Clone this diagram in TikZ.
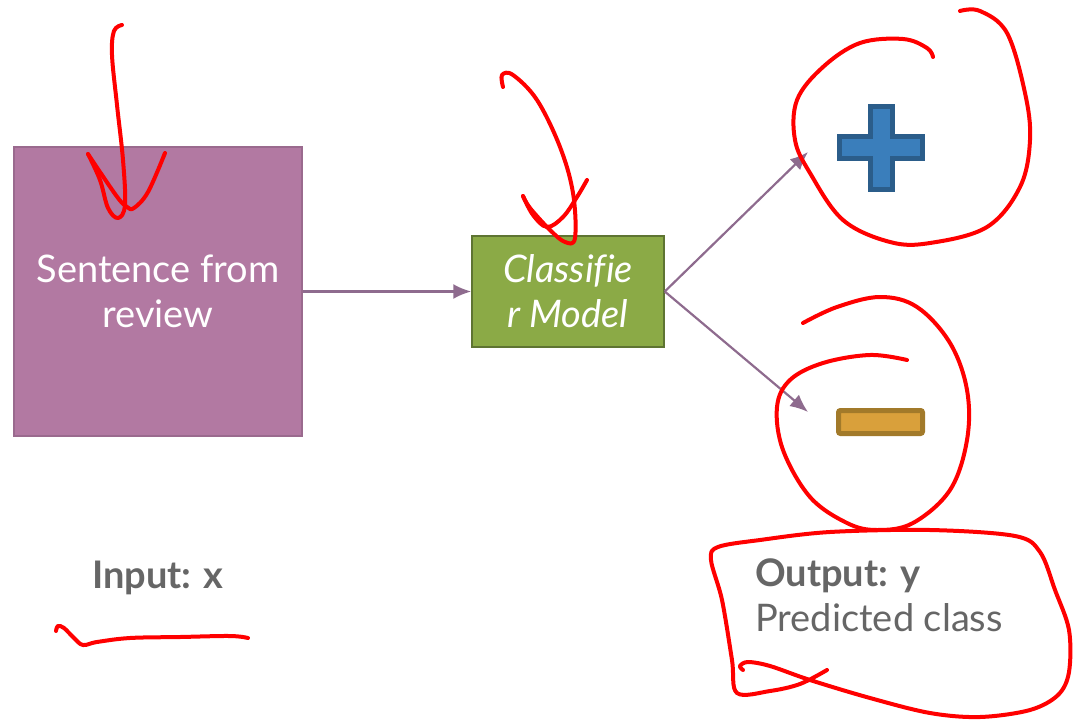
\documentclass[tikz,border=0pt]{standalone}
\usepackage{fontspec}
\setmainfont[Ligatures=NoCommon]{Lato}
\usepackage{tikz}
\usetikzlibrary{arrows.meta, positioning, calc}
\definecolor{boxviola}{HTML}{B279A2}
\definecolor{bordoviola}{HTML}{9A6A8E}
\definecolor{boxverde}{HTML}{8BAA46}
\definecolor{bordoverde}{HTML}{5E7432}
\definecolor{freccia}{HTML}{8E6B8E}
\definecolor{piublu}{HTML}{3A7EBB}
\definecolor{bordoblu}{HTML}{2B5D8A}
\definecolor{menoarancio}{HTML}{D9A03B}
\definecolor{bordoarancio}{HTML}{A27A2A}
\definecolor{testogrigio}{HTML}{666666}
\tikzset{
  inbox/.style = {draw=bordoviola, fill=boxviola, line width=1.5pt, text=white, align=center},
  modelbox/.style = {draw=bordoverde, fill=boxverde, line width=1.5pt, text=white, align=center},
  freccetta/.style = {draw=freccia, line width=2.2pt, -{Latex[length=18pt,width=15pt]}},
  scribble/.style = {draw=red, line width=4pt, line cap=round, line join=round},
  etichetta/.style = {text=testogrigio, align=left}
}

\begin{document}
\begin{tikzpicture}[x=1pt, y=-1pt]
    \useasboundingbox (0,0) rectangle (1075,722);
    % Blocchi
    \node[inbox, minimum width=288pt, minimum height=289pt, font=\fontsize{38}{45}\selectfont] (review) at (158,291.5)
        {Sentence from\\review};
    \node[modelbox, minimum width=192pt, minimum height=111pt, inner xsep=2pt, font=\fontsize{38}{45}\selectfont\itshape] (model) at (568,291.5)
        {Classifie\\r Model};
    % Classi
    \coordinate (plus) at (881,148);
    \coordinate (minus) at (880.5,422);
    \coordinate (plusTip) at (808,152);
    \coordinate (minusTip) at (808,412);
    \draw[draw=bordoblu, fill=piublu, line width=5pt]
        ($(plus)+(-11,-41.5)$) -- ($(plus)+(11,-41.5)$) -- ($(plus)+(11,-11)$) --
        ($(plus)+(41.5,-11)$) -- ($(plus)+(41.5,11)$) -- ($(plus)+(11,11)$) --
        ($(plus)+(11,41.5)$) -- ($(plus)+(-11,41.5)$) -- ($(plus)+(-11,11)$) --
        ($(plus)+(-41.5,11)$) -- ($(plus)+(-41.5,-11)$) -- ($(plus)+(-11,-11)$) -- cycle;
    \draw[draw=bordoarancio, fill=menoarancio, line width=5pt, rounded corners=2pt]
        ($(minus)+(-42,-11.5)$) rectangle ($(minus)+(42,11.5)$);
    % Frecce
    \draw[freccetta] (review.east) -- (model.west);
    \draw[freccetta] (model.east) -- (plusTip);
    \draw[freccetta] (model.east) -- (minusTip);
    % Etichette
    \node[etichetta, font=\fontsize{38}{45}\selectfont\bfseries] (input) at (158,578) {Input: x};
    \node[etichetta, anchor=north west, inner sep=0pt, font=\fontsize{38}{45}\selectfont] (output) at (755,559)
        {\textbf{Output: y}\\Predicted class};
    % Scarabocchi
    \draw[scribble] plot[smooth, tension=0.6] coordinates {(122,25) (114,31) (112,55) (117,105) (123,160) (125,205) (118,218) (108,208) (100,180) (88,154)};
    \draw[scribble] plot[smooth, tension=0.6] coordinates {(88,154) (100,172) (118,198) (127,207) (134,208) (148,192) (165,153)};
    \draw[scribble] plot[smooth, tension=0.6] coordinates {(503,87) (502,75) (513,75) (537,100) (560,147) (573,193) (575,238) (565,242) (550,230) (530,208) (523,196)};
    \draw[scribble] plot[smooth, tension=0.6] coordinates {(523,196) (533,215) (547,227) (563,217) (577,197) (587,180)};
    \draw[scribble] plot[smooth, tension=0.6] coordinates {(960,11) (980,11) (1007,33) (1025,93) (1030,140) (1020,187) (987,227) (930,243) (890,242) (843,220) (810,173) (795,140) (797,100) (823,67) (860,43) (903,39) (927,48) (933,57)};
    \draw[scribble] plot[smooth, tension=0.6] coordinates {(803,323) (837,307) (880,297) (917,307) (950,343) (967,390) (967,440) (950,490) (913,523) (877,530) (847,523) (810,497) (783,450) (777,407) (790,380) (823,363) (870,355) (907,360)};
    \draw[scribble] plot[smooth, tension=0.55] coordinates {(827,670) (800,684) (770,691) (737,693) (732,660) (722,600) (711,560) (718,547) (760,540) (830,532) (930,530) (1015,536) (1040,552) (1055,590) (1069,630) (1069,672) (1058,695) (1030,710) (980,717) (930,713) (870,698) (810,680) (770,666) (748,662) (740,666) (743,670)};
    \draw[scribble] plot[smooth, tension=0.6] coordinates {(56,631) (58,626) (64,628) (74,638) (83,645) (97,642) (130,638) (180,637) (230,636) (248,638)};
\end{tikzpicture}
\end{document}
